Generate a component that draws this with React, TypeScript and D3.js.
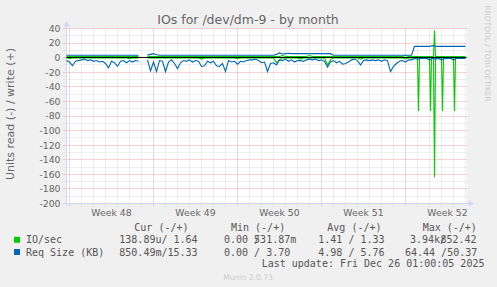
import React, { useEffect, useRef } from 'react';
import * as d3 from 'd3';

// time window of the month graph (2 hours per pixel)
const startTime = Date.UTC(2025, 10, 23, 18, 0, 0);
const endTime = Date.UTC(2025, 11, 27, 2, 0, 0);
const stepHours = 6;

const yTickValues = [40, 20, 0, -20, -40, -60, -80, -100, -120, -140, -160, -180, -200];
const weekLabels = ['Week 48', 'Week 49', 'Week 50', 'Week 51', 'Week 52'];

// Req Size (KB), one value every 6 hours, read is drawn below zero
const reqSizeRead = [
  4, 6, 11, 5, 4, 3, 2, 4, 3, 5,
  4, 6, 5, 8, 14, 5, 7, 12, 5, 4,
  7, 4, 6, 4, 5, null, null, 3, 18, 6,
  19, 4, 5, 19, 6, 3, 8, 15, 7, 4,
  5, 3, 6, 4, 5, 12, 11, 5, 7, 5,
  11, 12, 8, 19, 4, 6, 5, 9, 5, 6,
  4, 3, 3, 2, 4, 7, 6, 19, 8, 7,
  10, 3, 4, 2, 5, 3, 6, 4, 4, 5,
  3, 2, 3, 2, 4, 3, 5, 13, 6, 4,
  7, 5, 9, 8, 6, 3, 2, 4, 10, 4,
  3, 4, 3, 4, 3, 5, 3, 4, 19, 12,
  8, 5, 4, 6, 3, 3, 1, 2, 1, 1,
  1, 3, 1, 2, 1, 3, 1, 1, 1, 3,
  1, 1, 1, 1,
];
const reqSizeWrite = [
  3.3, 3.3, 3.3, 3.3, 3.3, 3.3, 3.3, 3.3, 3.3, 3.3,
  3.3, 3.3, 3.3, 3.3, 3.3, 3.3, 3.3, 3.3, 3.3, 3.3,
  3.3, 3.3, 3.3, 3.3, 3.3, null, null, 3.5, 4.5, 5.5,
  4, 3.5, 3.3, 3.3, 3.3, 3.3, 3.3, 3.3, 3.3, 3.3,
  3.3, 3.3, 3.3, 3.3, 3.3, 3.3, 3.3, 3.3, 3.3, 3.3,
  3.3, 3.3, 3.3, 3.3, 3.3, 3.3, 3.3, 3.3, 3.3, 3.3,
  3.3, 3.3, 3.3, 3.3, 3.3, 3.3, 3.3, 3.3, 3.3, 3.3,
  4.5, 6.5, 5, 5.5, 6, 5.5, 5.5, 5.5, 5.5, 5.5,
  5.5, 5.5, 5.5, 5.5, 5.5, 5.5, 5.5, 5.5, 5.5, 3.3,
  3.3, 3.3, 3.3, 3.3, 3.3, 3.3, 3.3, 3.3, 3.3, 3.3,
  3.3, 3.3, 3.3, 3.3, 3.3, 3.3, 3.3, 3.3, 3.3, 3.3,
  3.3, 3.3, 3.3, 3.3, 3.3, 3.3, 15.5, 15.5, 15.5, 15.5,
  15.5, 15.5, 16.5, 15.5, 15.5, 15.5, 15.5, 15.5, 15.5, 15.5,
  15.5, 15.5, 15.5, 15.5,
];

// IO/sec, one value every 6 hours
const ioRead = [
  0.3, 1, 0.3, 0.3, 0.5, 0.3, 0.3, 0.3, 0.3, 0.3,
  0.3, 0.3, 0.3, 0.3, 0.3, 0.3, 0.3, 0.3, 0.3, 0.3,
  0.3, 1.5, 0.3, 0.3, 0.3, null, null, 0.3, 0.5, 0.3,
  0.3, 0.3, 0.3, 0.3, 0.3, 0.3, 0.3, 0.3, 0.3, 0.3,
  0.3, 0.3, 0.3, 0.3, 0.3, 2, 0.3, 0.3, 0.3, 0.3,
  0.3, 0.3, 0.3, 0.3, 0.3, 0.3, 0.3, 1.5, 0.3, 0.3,
  0.3, 0.3, 0.3, 0.3, 0.3, 0.3, 0.3, 0.3, 0.3, 0.3,
  7, 3, 0.3, 0.3, 0.5, 0.3, 0.3, 0.3, 2, 0.3,
  0.3, 0.3, 0.3, 0.3, 0.3, 0.3, 0.5, 10, 3, 0.3,
  0.3, 0.3, 0.3, 0.3, 0.3, 0.3, 0.3, 0.3, 2, 0.3,
  0.3, 0.3, 0.3, 0.3, 0.3, 0.3, 0.3, 0.3, 0.3, 0.3,
  0.3, 0.3, 0.3, 1.5, 0.3, 0.3, 0.3, 0.3, 0.3, 0.3,
  0.3, 0.3, 0.3, 0.3, 0.3, 0.3, 0.3, 0.3, 0.3, 0.3,
  0.3, 0.3, 0.3, 0.3,
];
const ioWrite = [
  1.5, 1.5, 1.5, 1.5, 1.5, 1.5, 1.5, 1.5, 1.5, 1.5,
  1.5, 1.5, 1.5, 1.5, 1.5, 1.5, 1.5, 1.5, 1.5, 1.5,
  1.5, 1.5, 1.5, 1.5, 1.5, null, null, 1.5, 1.5, 1.5,
  1.5, 1.5, 1.5, 1.5, 1.5, 1.5, 1.5, 1.5, 1.5, 1.5,
  1.5, 1.5, 1.5, 1.5, 1.5, 1.5, 1.5, 1.5, 1.5, 1.5,
  1.5, 1.5, 1.5, 1.5, 1.5, 1.5, 1.5, 1.5, 1.5, 1.5,
  1.5, 1.5, 1.5, 1.5, 1.5, 1.5, 1.5, 1.5, 1.5, 1.5,
  1.5, 1.5, 3, 1.5, 1.5, 1.5, 1.5, 1.5, 1.5, 1.5,
  1.5, 3, 1.5, 1.5, 1.5, 1.5, 1.5, 1.5, 1.5, 1.5,
  1.5, 1.5, 1.5, 1.5, 1.5, 1.5, 1.5, 1.5, 1.5, 1.5,
  1.5, 1.5, 1.5, 1.5, 1.5, 1.5, 1.5, 1.5, 1.5, 1.5,
  1.5, 1.5, 1.5, 3, 1.5, 1.5, 1.5, 1.5, 1.5, 1.5,
  1.5, 1.5, 1.5, 1.5, 1.5, 1.5, 1.5, 1.5, 1.5, 1.5,
  1.5, 1.5, 1.5, 1.5,
];
// short nightly bursts in week 52 (hours after startTime)
const ioReadSpikes = [
  { hour: 704, value: 73 },
  { hour: 728, value: 73 },
  { hour: 736, value: 164 },
  { hour: 752, value: 73 },
  { hour: 776, value: 73 },
];
const ioWriteSpikes = [{ hour: 736, value: 37.5 }];

const legendNames = ['IO/sec', 'Req Size (KB)'];
const legendColors = ['#00cc00', '#0066b3'];
const legendCur = ['138.89u/ 1.64', '850.49m/15.33'];
const legendMin = [['0.00 /', '531.87m'], ['0.00 / 3.70', '']];
const legendAvg = ['1.41 / 1.33', '4.98 / 5.76'];
const legendMax = [['3.94k/', '852.42'], ['64.44 /50.37', '']];

type Pt = { t: number; v: number | null };

function toPoints(values: (number | null)[], spikes: { hour: number; value: number }[] = []): Pt[] {
  let pts: Pt[] = values.map((v, i) => ({ t: i * stepHours, v }));
  pts = pts.filter(p => !spikes.some(s => Math.abs(p.t - s.hour) < 2));
  spikes.forEach(s => {
    let near = values[Math.round(s.hour / stepHours)] ?? 0;
    pts.push({ t: s.hour - 2, v: near }, { t: s.hour, v: s.value }, { t: s.hour + 2, v: near });
  });
  return pts.sort((a, b) => a.t - b.t);
}

export default function App() {
  const ref = useRef<SVGSVGElement>(null);

  useEffect(() => {
    document.body.style.margin = '0';
    let svgWidth = 497, svgHeight = 287;
    let plot = { left: 66.5, right: 466.5, top: 28.5, bottom: 203.5 };
    let sans = 'DejaVu Sans, sans-serif';
    let mono = 'DejaVu Sans Mono, monospace';
    let fontColor = '#666666';
    let axisColor = '#cfd6f8';

    let svg = d3.select(ref.current);
    svg.selectAll('*').remove();

    svg.append('rect').attr('width', svgWidth).attr('height', svgHeight).attr('fill', '#f0f0f0');
    svg.append('rect')
      .attr('x', plot.left).attr('y', plot.top)
      .attr('width', plot.right - plot.left).attr('height', plot.bottom - plot.top)
      .attr('fill', '#ffffff');

    let scaleX = d3.scaleUtc()
      .domain([new Date(startTime), new Date(endTime)])
      .range([plot.left, plot.right]);
    let scaleY = d3.scaleLinear()
      .domain([-200, 40])
      .range([plot.bottom, plot.top]);
    let timeOf = (h: number) => new Date(startTime + h * 3600e3);
    let crisp = (v: number) => Math.round(v - 0.5) + 0.5;

    // grid
    let grid = svg.append('g').attr('stroke-dasharray', '1,1').attr('fill', 'none');
    let days = d3.utcDay.range(new Date(startTime), new Date(endTime));
    days.forEach(d => {
      let major = d.getUTCDay() === 1;
      grid.append('line')
        .attr('x1', crisp(scaleX(d))).attr('x2', crisp(scaleX(d)))
        .attr('y1', plot.top).attr('y2', plot.bottom + 2.5)
        .attr('stroke', major ? '#e05050' : '#c0c0c0')
        .attr('stroke-opacity', 0.5);
    });
    d3.range(-200, 41, 10).forEach(v => {
      let major = v % 20 === 0;
      grid.append('line')
        .attr('x1', plot.left - 3).attr('x2', plot.right)
        .attr('y1', crisp(scaleY(v))).attr('y2', crisp(scaleY(v)))
        .attr('stroke', major ? '#e05050' : '#c0c0c0')
        .attr('stroke-opacity', 0.5);
    });

    // axes with arrows
    svg.append('line')
      .attr('x1', plot.left).attr('x2', plot.left)
      .attr('y1', plot.bottom + 2.5).attr('y2', plot.top - 3)
      .attr('stroke', axisColor);
    svg.append('path')
      .attr('d', `M${plot.left - 3},${plot.top - 2} L${plot.left},${plot.top - 7.5} L${plot.left + 3},${plot.top - 2} Z`)
      .attr('fill', axisColor);
    svg.append('line')
      .attr('x1', plot.left - 3).attr('x2', plot.right + 3)
      .attr('y1', plot.bottom).attr('y2', plot.bottom)
      .attr('stroke', axisColor);
    svg.append('path')
      .attr('d', `M${plot.right + 2},${plot.bottom - 3} L${plot.right + 7.5},${plot.bottom} L${plot.right + 2},${plot.bottom + 3} Z`)
      .attr('fill', axisColor);

    // data lines
    let lineFor = (sign: number) => d3.line<Pt>()
      .defined(d => d.v !== null)
      .x(d => scaleX(timeOf(d.t)))
      .y(d => scaleY(sign * (d.v as number)));

    let series = [
      { pts: toPoints(ioRead, ioReadSpikes), sign: -1, color: '#00cc00' },
    ];
    series.forEach(s => {
      svg.append('path').attr('d', lineFor(s.sign)(s.pts))
        .attr('fill', 'none').attr('stroke', s.color).attr('stroke-width', 1.1);
    });

    svg.append('line')
      .attr('x1', plot.left).attr('x2', plot.right)
      .attr('y1', crisp(scaleY(0))).attr('y2', crisp(scaleY(0)))
      .attr('stroke', '#000000');

    let series2 = [
      { pts: toPoints(ioWrite, ioWriteSpikes), sign: 1, color: '#00cc00' },
      { pts: toPoints(reqSizeRead), sign: -1, color: '#0066b3' },
      { pts: toPoints(reqSizeWrite), sign: 1, color: '#0066b3' },
    ];
    series2.forEach(s => {
      svg.append('path').attr('d', lineFor(s.sign)(s.pts))
        .attr('fill', 'none').attr('stroke', s.color).attr('stroke-width', 1.1);
    });

    // y tick labels
    svg.append('g').selectAll('text')
      .data(yTickValues)
      .enter()
        .append('text')
        .attr('x', 60.5)
        .attr('y', d => scaleY(d) + 3.4)
        .attr('text-anchor', 'end')
        .attr('font-family', sans).attr('font-size', 9.3)
        .attr('fill', fontColor)
        .text(d => String(d));

    // week labels centred in each week
    let mondays = d3.utcMonday.range(new Date(startTime), new Date(endTime));
    svg.append('g').selectAll('text')
      .data(mondays)
      .enter()
        .append('text')
        .attr('x', d => scaleX(new Date(d.getTime() + 3.5 * 86400e3)))
        .attr('y', 216.3)
        .attr('text-anchor', 'middle')
        .attr('font-family', sans).attr('font-size', 9.3)
        .attr('fill', fontColor)
        .text((d, i) => weekLabels[i]);

    // titles
    svg.append('text')
      .attr('x', 248).attr('y', 24.2)
      .attr('text-anchor', 'middle')
      .attr('font-family', sans).attr('font-size', 12.5)
      .attr('fill', fontColor)
      .text('IOs for /dev/dm-9 - by month');
    svg.append('text')
      .attr('transform', 'translate(14.3,114) rotate(-90)')
      .attr('text-anchor', 'middle')
      .attr('font-family', sans).attr('font-size', 11)
      .attr('fill', fontColor)
      .text('Units read (-) / write (+)');
    svg.append('text')
      .attr('transform', 'translate(484.5,53.5) rotate(90)')
      .attr('text-anchor', 'middle')
      .attr('font-family', sans).attr('font-size', 7.5)
      .attr('fill', '#cccccc')
      .text('RRDTOOL / TOBI OETIKER');

    // legend
    let legend = svg.append('g').attr('font-family', mono).attr('font-size', 10).attr('fill', '#555555');
    let headers = [['Cur (-/+)', 134.3], ['Min (-/+)', 231], ['Avg (-/+)', 327.3], ['Max (-/+)', 422.7]];
    headers.forEach(h => {
      legend.append('text').attr('x', h[1]).attr('y', 231.3).attr('xml:space', 'preserve').text(h[0] as string);
    });
    legendNames.forEach((name, i) => {
      let y = 243.4 + i * 12.2;
      svg.append('rect')
        .attr('x', 14).attr('y', y - 6.6)
        .attr('width', 6).attr('height', 6)
        .attr('fill', legendColors[i]);
      legend.append('text').attr('x', 26).attr('y', y).text(name);
      legend.append('text').attr('x', 119.3).attr('y', y).attr('xml:space', 'preserve').text(legendCur[i]);
      legend.append('text').attr('x', 224).attr('y', y).attr('xml:space', 'preserve').text(legendMin[i][0]);
      legend.append('text').attr('x', 254.1).attr('y', y).text(legendMin[i][1]);
      legend.append('text').attr('x', 318.3).attr('y', y).attr('xml:space', 'preserve').text(legendAvg[i]);
      legend.append('text').attr('x', i === 0 ? 410 : 405).attr('y', y).attr('xml:space', 'preserve').text(legendMax[i][0]);
      legend.append('text').attr('x', 440.5).attr('y', y).text(legendMax[i][1]);
    });
    legend.append('text')
      .attr('x', 261.7).attr('y', 267.3)
      .attr('xml:space', 'preserve')
      .text('Last update: Fri Dec 26 01:00:05 2025');

    svg.append('text')
      .attr('x', 248).attr('y', 279.5)
      .attr('text-anchor', 'middle')
      .attr('font-family', sans).attr('font-size', 7.6)
      .attr('fill', '#cccccc')
      .text('Munin 2.0.73');
  }, []);

  return <svg ref={ref} width={497} height={287} style={{ display: 'block' }} />;
}
